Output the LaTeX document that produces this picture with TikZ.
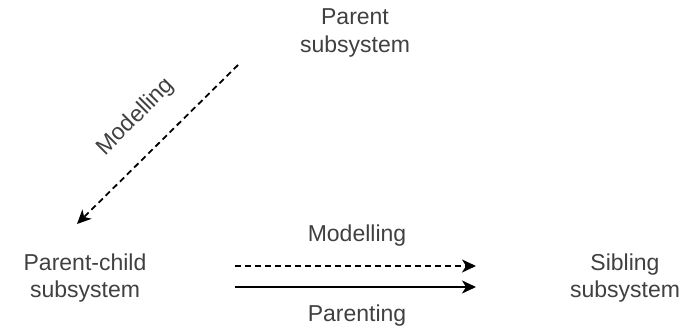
\documentclass[tikz,border=0pt]{standalone}
\usepackage{fontspec}
\setmainfont{Liberation Sans}
\usetikzlibrary{arrows.meta}
\begin{document}
\begin{tikzpicture}[x=1pt,y=-1pt,
  lbl/.style={font=\fontsize{23}{27.5}\selectfont, text=black!75, align=center, inner sep=0pt},
  conn/.style={line width=1.8pt, -{Stealth[length=14pt,width=13pt,inset=4pt]}},
  dashconn/.style={conn, dash pattern=on 6pt off 4pt}]
\useasboundingbox (0,0) rectangle (692,328);
\node[lbl] (parent) at (355,33) {Parent\\subsystem};
\node[lbl] (pchild) at (85,278) {Parent-child\\subsystem};
\node[lbl] (sibling) at (625,278) {Sibling\\subsystem};
\coordinate (d1) at (238,65);
\coordinate (d2) at (77,224);
\coordinate (h1) at (235,266);
\coordinate (h2) at (476,266);
\coordinate (s1) at (235,287);
\coordinate (s2) at (476,287);
\draw[dashconn] (d1) -- (d2);
\draw[dashconn] (h1) -- (h2);
\draw[conn] (s1) -- (s2);
\node[lbl, rotate=45] (mdiag) at (136,117) {Modelling};
\node[lbl] (mtop) at (357,236) {Modelling};
\node[lbl] (par) at (357,316) {Parenting};
\end{tikzpicture}
\end{document}
